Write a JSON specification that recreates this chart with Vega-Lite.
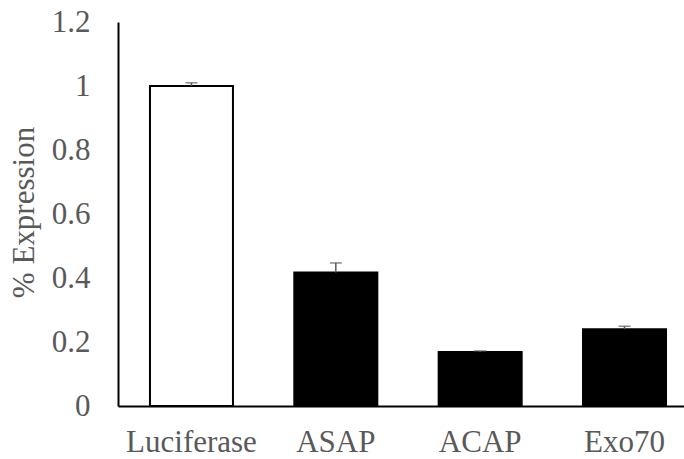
{
  "$schema": "https://vega.github.io/schema/vega-lite/v6.json",
  "autosize": "none",
  "width": 566,
  "height": 384,
  "padding": {"left": 118, "top": 22, "right": 0, "bottom": 53},
  "background": "white",
  "config": {"view": {"stroke": null}, "font": "'Liberation Serif', serif"},
  "data": {
    "values": [
      {"gene": "Luciferase", "value": 1.0, "upper": 1.01, "kind": "control"},
      {"gene": "ASAP", "value": 0.417, "upper": 0.447, "kind": "test"},
      {"gene": "ACAP", "value": 0.169, "upper": 0.172, "kind": "test"},
      {"gene": "Exo70", "value": 0.240, "upper": 0.249, "kind": "test"}
    ]
  },
  "encoding": {
    "x": {
      "field": "gene",
      "type": "nominal",
      "sort": null,
      "scale": {"paddingInner": 0.425, "paddingOuter": 0.173, "align": 0.64},
      "axis": {
        "title": null,
        "labelAngle": 0,
        "labelFont": "'Liberation Serif', serif",
        "labelFontSize": 31,
        "labelColor": "#595959",
        "labelPadding": 21,
        "ticks": false,
        "domainColor": "#000000",
        "domainWidth": 2
      }
    }
  },
  "layer": [
    {
      "mark": {"type": "bar", "stroke": "#000000", "strokeWidth": 2},
      "encoding": {
        "y": {
          "field": "value",
          "type": "quantitative",
          "scale": {"domain": [0, 1.2], "nice": false},
          "axis": {
            "values": [0, 0.2, 0.4, 0.6, 0.8, 1, 1.2],
            "format": ".1~f",
            "grid": false,
            "ticks": false,
            "labelFont": "'Liberation Serif', serif",
            "labelFontSize": 31,
            "labelColor": "#595959",
            "labelPadding": 28,
            "domainColor": "#000000",
            "domainWidth": 2,
            "title": "% Expression",
            "titleFont": "'Liberation Serif', serif",
            "titleFontSize": 31,
            "titleFontWeight": "normal",
            "titleColor": "#595959",
            "titleAngle": -90,
            "titleAlign": "center",
            "titleBaseline": "alphabetic",
            "titleX": -85,
            "titleY": 190
          }
        },
        "fill": {
          "field": "kind",
          "type": "nominal",
          "scale": {"domain": ["control", "test"], "range": ["#ffffff", "#000000"]},
          "legend": null
        }
      }
    },
    {
      "mark": {"type": "rule", "color": "#595959", "strokeWidth": 1.5},
      "encoding": {
        "y": {"field": "value", "type": "quantitative"},
        "y2": {"field": "upper"}
      }
    },
    {
      "mark": {"type": "tick", "color": "#595959", "thickness": 1.5, "size": 12, "orient": "horizontal"},
      "encoding": {
        "y": {"field": "upper", "type": "quantitative"}
      }
    }
  ]
}
